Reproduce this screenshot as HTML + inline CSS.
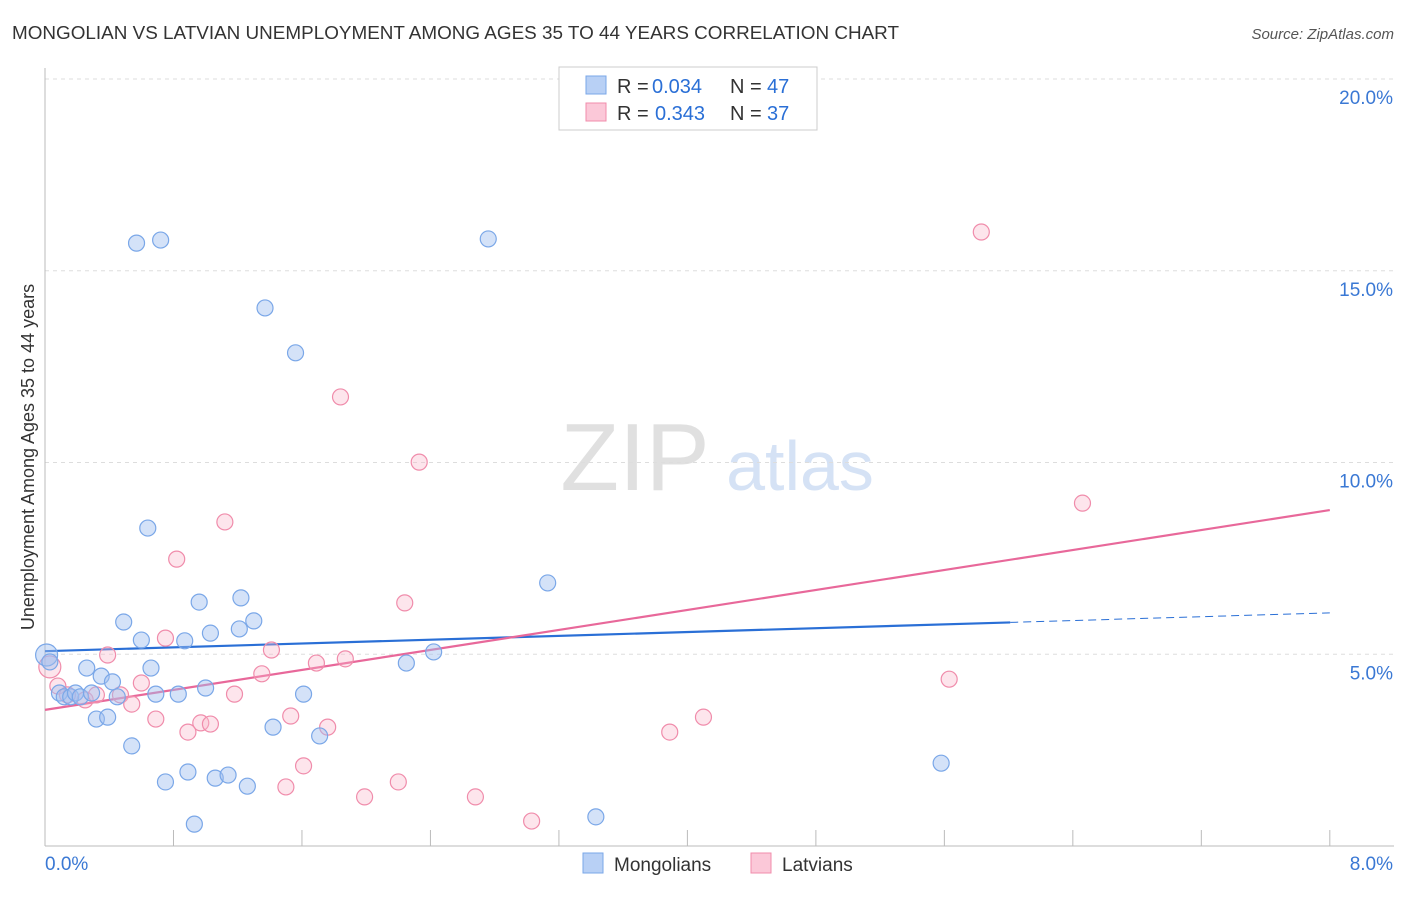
<!DOCTYPE html>
<html><head><meta charset="utf-8"><style>
body{margin:0;background:#fff;font-family:"Liberation Sans",sans-serif;}
svg text{font-family:"Liberation Sans",sans-serif;}
</style></head><body>
<svg id="chart" width="1406" height="892" viewBox="0 0 1406 892">
<text x="12" y="39" font-size="18" fill="#333" textLength="887" lengthAdjust="spacingAndGlyphs">MONGOLIAN VS LATVIAN UNEMPLOYMENT AMONG AGES 35 TO 44 YEARS CORRELATION CHART</text>
<text x="1394" y="39" font-size="15" fill="#555" font-style="italic" text-anchor="end">Source: ZipAtlas.com</text>
<g>
<text x="635" y="490" font-size="96" fill="#e0e0e0" font-family="Liberation Serif,serif" text-anchor="middle">ZIP</text>
<text x="800" y="490" font-size="70" fill="#d5e2f5" text-anchor="middle">atlas</text>
</g>
<g id="grid"></g>
<g id="axes"></g>
<g id="lines"></g>
<g id="points"></g>
<text transform="translate(34,457) rotate(-90)" font-size="18" fill="#333" text-anchor="middle">Unemployment Among Ages 35 to 44 years</text>
<g>
<rect x="559" y="67" width="258" height="63" fill="#fff" stroke="#ccc"/>
<rect x="586" y="76" width="20" height="18" fill="#b8d0f5" stroke="#7aa7e8"/>
<rect x="586" y="103" width="20" height="18" fill="#fbc8d8" stroke="#f08cab"/>
<text x="617" y="93" font-size="20" fill="#333">R =</text>
<text x="652" y="93" font-size="20" fill="#2a6fd6">0.034</text>
<text x="730" y="93" font-size="20" fill="#333">N =</text>
<text x="767" y="93" font-size="20" fill="#2a6fd6">47</text>
<text x="617" y="120" font-size="20" fill="#333">R =</text>
<text x="655" y="120" font-size="20" fill="#2a6fd6">0.343</text>
<text x="730" y="120" font-size="20" fill="#333">N =</text>
<text x="767" y="120" font-size="20" fill="#2a6fd6">37</text>
</g>
<g>
<rect x="583" y="853" width="20" height="20" fill="#b8d0f5" stroke="#7aa7e8"/>
<text x="614" y="871" font-size="19" fill="#333">Mongolians</text>
<rect x="751" y="853" width="20" height="20" fill="#fbc8d8" stroke="#f08cab"/>
<text x="782" y="871" font-size="19" fill="#333">Latvians</text>
</g>
</svg>
<script>
const yTicks=[5,10,15,20];
const yTickLabels=["5.0%","10.0%","15.0%","20.0%"];
const xTicks=[0,0.8,1.6,2.4,3.2,4.0,4.8,5.6,6.4,7.2,8.0];
const xEndLabels=["0.0%","8.0%"];
const mongX=[0.01,0.03,0.09,0.12,0.16,0.19,0.22,0.26,0.29,0.32,0.35,0.39,0.42,0.45,0.49,0.54,0.57,0.60,0.64,0.66,0.69,0.72,0.75,0.83,0.87,0.89,0.93,0.96,1.00,1.03,1.06,1.14,1.21,1.22,1.26,1.30,1.37,1.42,1.56,1.61,1.71,2.25,2.42,2.76,3.13,3.43,5.58];
const mongY=[4.98,4.80,3.99,3.89,3.89,3.99,3.89,4.64,3.99,3.31,4.43,3.36,4.28,3.89,5.84,2.61,15.72,5.37,8.29,4.64,3.96,15.80,1.67,3.96,5.35,1.93,0.57,6.36,4.12,5.55,1.77,1.85,5.66,6.47,1.56,5.87,14.03,3.10,12.86,3.96,2.87,4.77,5.06,15.83,6.86,0.76,2.16];
const latX=[0.03,0.08,0.14,0.25,0.32,0.39,0.47,0.54,0.60,0.69,0.75,0.82,0.89,0.97,1.03,1.12,1.18,1.35,1.41,1.50,1.53,1.61,1.69,1.76,1.84,1.87,1.99,2.20,2.24,2.33,2.68,3.03,3.89,4.10,5.63,5.83,6.46];
const latY=[4.67,4.17,3.94,3.81,3.94,4.98,3.94,3.70,4.25,3.31,5.42,7.48,2.97,3.21,3.18,8.45,3.96,4.49,5.11,1.54,3.39,2.09,4.77,3.10,11.71,4.88,1.28,1.67,6.34,10.01,1.28,0.65,2.97,3.36,4.35,16.01,8.94];
const mongTrendX=[0,6.01,8];
const mongTrendY=[5.08,5.83,6.08];
const latTrendX=[0,8];
const latTrendY=[3.55,8.76];

const NS="http://www.w3.org/2000/svg";
const xs=v=>45+v*160.6;
const ys=v=>846-v*38.35;
function mk(tag,attrs,parent){const e=document.createElementNS(NS,tag);for(const k in attrs)e.setAttribute(k,attrs[k]);document.getElementById(parent).appendChild(e);return e;}

yTicks.forEach((t,i)=>{
  const l=mk('line',{x1:45,x2:1394,y1:ys(t),y2:ys(t),stroke:'#ddd','stroke-dasharray':'4,4'},'grid');
  
  
  const tx=mk('text',{x:1393,y:ys(t)+25,'font-size':19,fill:'#3a78d4','text-anchor':'end'},'grid');
  tx.textContent=yTickLabels[i];
  
  
});
const ax=mk('line',{x1:45,x2:45,y1:68,y2:846,stroke:'#bbb'},'axes');


const bx=mk('line',{x1:45,x2:1394,y1:846,y2:846,stroke:'#bbb'},'axes');


xTicks.forEach(t=>{
  const l=mk('line',{x1:xs(t),x2:xs(t),y1:830,y2:846,stroke:'#bbb'},'axes');
  
  
});
const xl0=mk('text',{x:45,y:870,'font-size':19,fill:'#3a78d4'},'axes');
xl0.textContent=xEndLabels[0];


const xl1=mk('text',{x:1393,y:870,'font-size':19,fill:'#3a78d4','text-anchor':'end'},'axes');
xl1.textContent=xEndLabels[1];



latX.forEach((x,i)=>{
  const c=mk('circle',{cx:xs(x),cy:ys(latY[i]),r:i===0?11:8,fill:'rgba(248,180,200,0.35)',stroke:'#f08cab','stroke-width':1.2},'points');
  
  
});
mongX.forEach((x,i)=>{
  const c=mk('circle',{cx:xs(x),cy:ys(mongY[i]),r:i===0?11:8,fill:'rgba(160,190,240,0.45)',stroke:'#7aa7e8','stroke-width':1.2},'points');
  
  
});
const m1=mk('line',{x1:xs(mongTrendX[0]),y1:ys(mongTrendY[0]),x2:xs(mongTrendX[1]),y2:ys(mongTrendY[1]),stroke:'#2a6fd6','stroke-width':2.2},'lines');


const m2=mk('line',{x1:xs(mongTrendX[1]),y1:ys(mongTrendY[1]),x2:xs(mongTrendX[2]),y2:ys(mongTrendY[2]),stroke:'#2a6fd6','stroke-width':1,'stroke-dasharray':'8,5'},'lines');


const p1=mk('line',{x1:xs(latTrendX[0]),y1:ys(latTrendY[0]),x2:xs(latTrendX[1]),y2:ys(latTrendY[1]),stroke:'#e8689a','stroke-width':2.2},'lines');


</script>
</body></html>
